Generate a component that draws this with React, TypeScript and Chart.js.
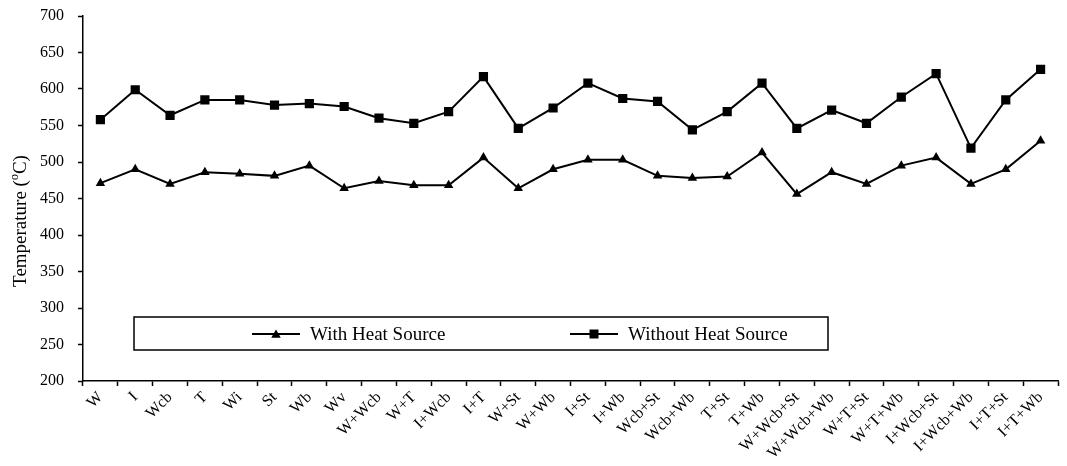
import React, { useEffect, useRef } from "react";
import { Chart, registerables } from "chart.js";

Chart.register(...registerables);

const categories = [
  "W", "I", "Wcb", "T", "Wi", "St", "Wb", "Wv",
  "W+Wcb", "W+T", "I+Wcb", "I+T", "W+St", "W+Wb", "I+St", "I+Wb",
  "Wcb+St", "Wcb+Wb", "T+St", "T+Wb", "W+Wcb+St", "W+Wcb+Wb", "W+T+St", "W+T+Wb",
  "I+Wcb+St", "I+Wcb+Wb", "I+T+St", "I+T+Wb",
];

const withHeatSource = [
  471, 490, 470, 486, 484, 481, 495, 464,
  474, 468, 468, 506, 464, 490, 503, 503,
  481, 478, 480, 513, 456, 486, 470, 495,
  506, 470, 490, 529,
];

const withoutHeatSource = [
  558, 599, 564, 585, 585, 578, 580, 576,
  560, 553, 569, 617, 546, 574, 608, 587,
  583, 544, 569, 608, 546, 571, 553, 589,
  621, 519, 585, 627,
];

const seriesLabels = ["With Heat Source", "Without Heat Source"];
const yTitleParts = ["Temperature (", "o", "C)"];

const FONT = "'Liberation Serif', 'Times New Roman', serif";

function drawTriangle(ctx: CanvasRenderingContext2D, x: number, y: number, r: number) {
  ctx.beginPath();
  ctx.moveTo(x, y - r);
  ctx.lineTo(x + r * 0.866, y + r * 0.5);
  ctx.lineTo(x - r * 0.866, y + r * 0.5);
  ctx.closePath();
  ctx.fill();
}

export default function App() {
  const ref = useRef<HTMLCanvasElement>(null);

  useEffect(() => {
    if (!ref.current) return;

    const boxLegend = {
      id: "boxLegend",
      afterDraw(chart: any) {
        const ctx: CanvasRenderingContext2D = chart.ctx;
        ctx.save();
        ctx.fillStyle = "#fff";
        ctx.fillRect(134, 317, 694, 33);
        ctx.strokeStyle = "#000";
        ctx.lineWidth = 1.5;
        ctx.strokeRect(134, 317, 694, 33);

        const cy = 334;
        const items = [
          { x0: 252, x1: 300, tx: 310, shape: "tri" },
          { x0: 570, x1: 618, tx: 628, shape: "rect" },
        ];
        items.forEach((it, i) => {
          ctx.strokeStyle = "#000";
          ctx.lineWidth = 2;
          ctx.beginPath();
          ctx.moveTo(it.x0, cy);
          ctx.lineTo(it.x1, cy);
          ctx.stroke();
          ctx.fillStyle = "#000";
          const mx = (it.x0 + it.x1) / 2;
          if (it.shape === "tri") drawTriangle(ctx, mx, cy + 1, 5.5);
          else ctx.fillRect(mx - 4.5, cy - 4.5, 9, 9);
          ctx.font = `19px ${FONT}`;
          ctx.textBaseline = "middle";
          ctx.textAlign = "left";
          ctx.fillText(seriesLabels[i], it.tx, cy + 1);
        });

        ctx.translate(21, 221);
        ctx.rotate(-Math.PI / 2);
        const big = `19px ${FONT}`;
        const small = `12px ${FONT}`;
        ctx.font = big;
        const w0 = ctx.measureText(yTitleParts[0]).width;
        const w2 = ctx.measureText(yTitleParts[2]).width;
        ctx.font = small;
        const w1 = ctx.measureText(yTitleParts[1]).width;
        const total = w0 + w1 + w2;
        let x = -total / 2;
        ctx.textBaseline = "middle";
        ctx.textAlign = "left";
        ctx.fillStyle = "#000";
        ctx.font = big;
        ctx.fillText(yTitleParts[0], x, 0);
        x += w0;
        ctx.font = small;
        ctx.fillText(yTitleParts[1], x, -6);
        x += w1;
        ctx.font = big;
        ctx.fillText(yTitleParts[2], x, 0);
        ctx.restore();
      },
    };

    const chart = new Chart(ref.current, {
      type: "line",
      data: {
        labels: categories,
        datasets: [
          {
            label: seriesLabels[0],
            data: withHeatSource,
            borderColor: "#000",
            backgroundColor: "#000",
            borderWidth: 2,
            pointStyle: "triangle",
            pointRadius: 5.5,
            pointBorderWidth: 0,
            tension: 0,
          },
          {
            label: seriesLabels[1],
            data: withoutHeatSource,
            borderColor: "#000",
            backgroundColor: "#000",
            borderWidth: 2,
            pointStyle: "rect",
            pointRadius: 6.5,
            pointBorderWidth: 0,
            tension: 0,
          },
        ],
      },
      options: {
        animation: false,
        responsive: false,
        layout: { padding: { top: 16, right: 9, left: 0, bottom: 0 } },
        plugins: {
          legend: { display: false },
          tooltip: { enabled: false },
        },
        scales: {
          x: {
            type: "category",
            offset: true,
            grid: {
              display: true,
              drawOnChartArea: false,
              drawTicks: true,
              tickLength: 5,
              tickColor: "#000",
              tickWidth: 1.5,
              offset: true,
            },
            border: { display: true, color: "#000", width: 1.5 },
            ticks: {
              autoSkip: false,
              maxRotation: 45,
              minRotation: 45,
              padding: 2,
              color: "#000",
              font: { family: FONT, size: 16 },
            },
            afterFit(scale: any) {
              scale.height = 85;
              scale.paddingLeft = 0;
              scale.paddingRight = 0;
            },
          },
          y: {
            min: 200,
            max: 700,
            grid: {
              display: true,
              drawOnChartArea: false,
              drawTicks: true,
              tickLength: 5,
              tickColor: "#000",
              tickWidth: 1.5,
            },
            border: { display: true, color: "#000", width: 1.5 },
            ticks: {
              stepSize: 50,
              padding: 14,
              color: "#000",
              font: { family: FONT, size: 16 },
            },
            afterFit(scale: any) {
              scale.width = 83;
              scale.paddingTop = 0;
              scale.paddingBottom = 0;
            },
          },
        },
      },
      plugins: [boxLegend],
    });

    return () => chart.destroy();
  }, []);

  return (
    <div style={{ position: "fixed", left: 0, top: 0, width: 1067, height: 466, background: "#fff" }}>
      <canvas ref={ref} width={1067} height={466} style={{ display: "block" }} />
    </div>
  );
}
